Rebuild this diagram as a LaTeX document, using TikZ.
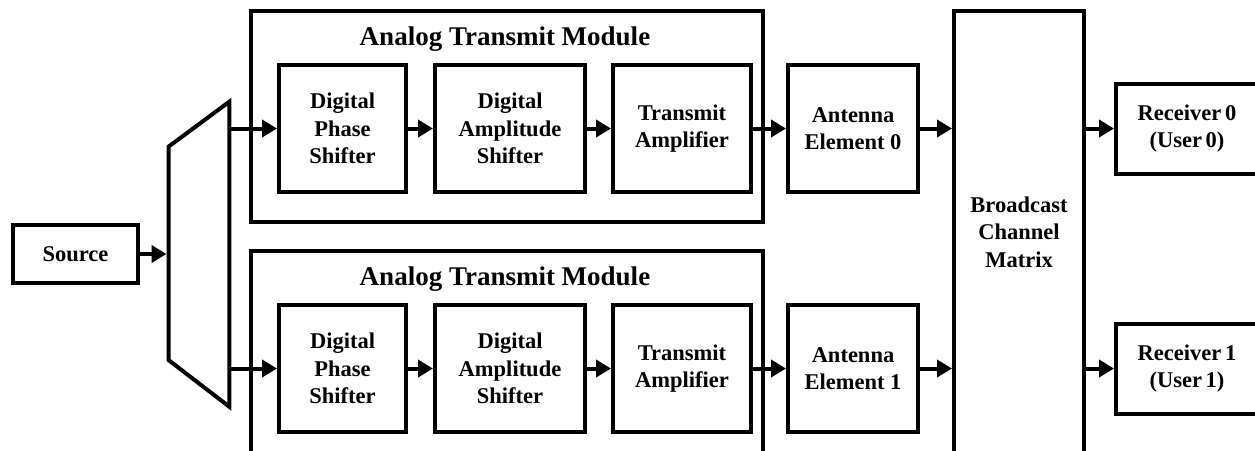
\documentclass[tikz,border=0pt]{standalone}
\usepackage{fontspec}
\setmainfont{Liberation Serif}
\usetikzlibrary{arrows.meta}
\begin{document}
\begin{tikzpicture}[x=1pt,y=-1pt,
  blk/.style={draw, line width=4pt, inner sep=0pt, align=center,
    font=\bfseries\fontsize{22.5}{27.5}\selectfont},
  modbox/.style={draw, line width=4pt, inner sep=0pt,
    minimum width=512pt, minimum height=211pt},
  modtitle/.style={anchor=base, inner sep=0pt,
    font=\bfseries\fontsize{27}{32}\selectfont},
  flow/.style={line width=4pt, -{Triangle[length=15pt,width=17pt]}},
]
\useasboundingbox (0,0) rectangle (1255,450);

% source and splitter
\node[blk, minimum width=125pt, minimum height=58pt] (src) at (75.5,254) {Source};
\draw[line width=4pt, line join=miter]
  (168.5,146.7) -- (229.3,101.7) -- (229.3,406.7) -- (168.5,360) -- cycle;
\coordinate (splitin) at (166.5,254);
\coordinate (splitout0) at (229.3,128.5);
\coordinate (splitout1) at (229.3,368.5);
\draw[flow] (src.east) -- (splitin);

% broadcast channel
\node[blk, minimum width=130pt, minimum height=442pt] (bc) at (1019,232)
  {Broadcast\\Channel\\Matrix};

% two transmit chains
\foreach \r/\yy in {0/128.5, 1/368.5} {
  \node[modbox] (mod\r) at (507,\yy-12) {};
  \node[modtitle] (title\r) at (505,\yy-83.5) {Analog Transmit Module};
  \node[blk, minimum width=127pt, minimum height=127pt] (dps\r) at (342.5,\yy)
    {Digital\\Phase\\Shifter};
  \node[blk, minimum width=150pt, minimum height=127pt] (das\r) at (510,\yy)
    {Digital\\Amplitude\\Shifter};
  \node[blk, minimum width=138pt, minimum height=127pt] (amp\r) at (682,\yy)
    {Transmit\\Amplifier};
  \node[blk, minimum width=130pt, minimum height=127pt] (ant\r) at (853,\yy)
    {Antenna\\Element \r};
  \node[blk, minimum width=142pt, minimum height=90pt] (rx\r) at (1187,\yy)
    {Receiver\,\r\\(User\,\r)};
  \draw[flow] (splitout\r) -- (dps\r.west);
  \draw[flow] (dps\r.east) -- (das\r.west);
  \draw[flow] (das\r.east) -- (amp\r.west);
  \draw[flow] (amp\r.east) -- (ant\r.west);
  \draw[flow] (ant\r.east) -- (ant\r.east -| bc.west);
  \draw[flow] (bc.east |- rx\r.west) -- (rx\r.west);
}
\end{tikzpicture}
\end{document}
